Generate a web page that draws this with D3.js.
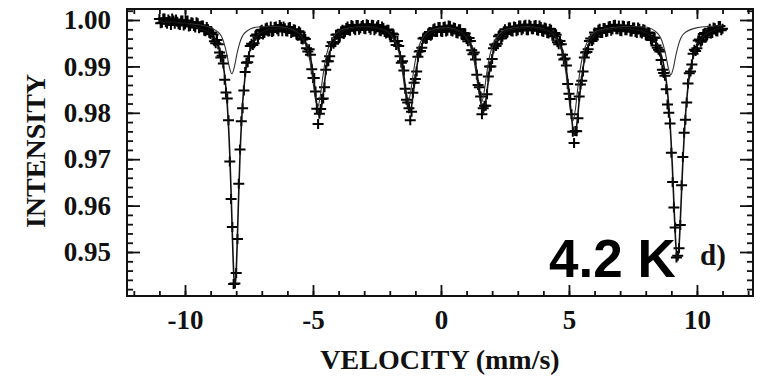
<!DOCTYPE html>
<html>
<head>
<meta charset="utf-8">
<script src="https://cdn.jsdelivr.net/npm/d3@7"></script>
<style>
  html, body { margin: 0; padding: 0; background: #fff; }
  svg { display: block; }
</style>
</head>
<body>
<div id="chart"></div>
<script>
const velocity = [
  -11, -10.9, -10.8, -10.7, -10.6, -10.5, -10.4, -10.3, -10.2, -10.1,
  -10, -9.9, -9.8, -9.7, -9.6, -9.5, -9.4, -9.3, -9.2, -9.1,
  -9, -8.9, -8.8, -8.7, -8.6, -8.5, -8.4, -8.3, -8.2, -8.1,
  -8, -7.9, -7.8, -7.7, -7.6, -7.5, -7.4, -7.3, -7.2, -7.1,
  -7, -6.9, -6.8, -6.7, -6.6, -6.5, -6.4, -6.3, -6.2, -6.1,
  -6, -5.9, -5.8, -5.7, -5.6, -5.5, -5.4, -5.3, -5.2, -5.1,
  -5, -4.9, -4.8, -4.7, -4.6, -4.5, -4.4, -4.3, -4.2, -4.1,
  -4, -3.9, -3.8, -3.7, -3.6, -3.5, -3.4, -3.3, -3.2, -3.1,
  -3, -2.9, -2.8, -2.7, -2.6, -2.5, -2.4, -2.3, -2.2, -2.1,
  -2, -1.9, -1.8, -1.7, -1.6, -1.5, -1.4, -1.3, -1.2, -1.1,
  -1, -0.9, -0.8, -0.7, -0.6, -0.5, -0.4, -0.3, -0.2, -0.1,
  0, 0.1, 0.2, 0.3, 0.4, 0.5, 0.6, 0.7, 0.8, 0.9,
  1, 1.1, 1.2, 1.3, 1.4, 1.5, 1.6, 1.7, 1.8, 1.9,
  2, 2.1, 2.2, 2.3, 2.4, 2.5, 2.6, 2.7, 2.8, 2.9,
  3, 3.1, 3.2, 3.3, 3.4, 3.5, 3.6, 3.7, 3.8, 3.9,
  4, 4.1, 4.2, 4.3, 4.4, 4.5, 4.6, 4.7, 4.8, 4.9,
  5, 5.1, 5.2, 5.3, 5.4, 5.5, 5.6, 5.7, 5.8, 5.9,
  6, 6.1, 6.2, 6.3, 6.4, 6.5, 6.6, 6.7, 6.8, 6.9,
  7, 7.1, 7.2, 7.3, 7.4, 7.5, 7.6, 7.7, 7.8, 7.9,
  8, 8.1, 8.2, 8.3, 8.4, 8.5, 8.6, 8.7, 8.8, 8.9,
  9, 9.1, 9.2, 9.3, 9.4, 9.5, 9.6, 9.7, 9.8, 9.9,
  10, 10.1, 10.2, 10.3, 10.4, 10.5, 10.6, 10.7, 10.8, 10.9,
  11
]
const intensity = [
  1.0002, 0.9994, 1.0003, 0.9992, 0.9998, 1.0003, 0.9992, 0.9996, 0.9989, 0.9999,
  0.9991, 0.9999, 0.9987, 0.9994, 0.9984, 0.9993, 0.9985, 0.9988, 0.9976, 0.9980,
  0.9970, 0.9969, 0.9950, 0.9948, 0.9919, 0.9906, 0.9844, 0.9784, 0.9614, 0.9431,
  0.9455, 0.9647, 0.9782, 0.9848, 0.9908, 0.9922, 0.9949, 0.9950, 0.9969, 0.9968,
  0.9979, 0.9972, 0.9984, 0.9976, 0.9974, 0.9985, 0.9980, 0.9989, 0.9976, 0.9982,
  0.9975, 0.9985, 0.9974, 0.9979, 0.9966, 0.9973, 0.9958, 0.9959, 0.9932, 0.9925,
  0.9875, 0.9846, 0.9776, 0.9808, 0.9831, 0.9893, 0.9911, 0.9944, 0.9949, 0.9968,
  0.9963, 0.9976, 0.9970, 0.9983, 0.9978, 0.9989, 0.9981, 0.9989, 0.9979, 0.9987,
  0.9981, 0.9991, 0.9983, 0.9990, 0.9978, 0.9986, 0.9977, 0.9986, 0.9974, 0.9979,
  0.9967, 0.9971, 0.9954, 0.9955, 0.9922, 0.9911, 0.9852, 0.9822, 0.9784, 0.9843,
  0.9873, 0.9921, 0.9933, 0.9960, 0.9959, 0.9971, 0.9966, 0.9980, 0.9974, 0.9985,
  0.9975, 0.9985, 0.9975, 0.9988, 0.9977, 0.9984, 0.9972, 0.9980, 0.9969, 0.9972,
  0.9959, 0.9961, 0.9935, 0.9930, 0.9882, 0.9855, 0.9797, 0.9815, 0.9840, 0.9900,
  0.9916, 0.9947, 0.9949, 0.9968, 0.9964, 0.9980, 0.9973, 0.9984, 0.9975, 0.9985,
  0.9978, 0.9988, 0.9981, 0.9990, 0.9978, 0.9987, 0.9980, 0.9989, 0.9977, 0.9985,
  0.9974, 0.9982, 0.9971, 0.9979, 0.9965, 0.9968, 0.9948, 0.9948, 0.9915, 0.9902,
  0.9841, 0.9797, 0.9735, 0.9760, 0.9835, 0.9869, 0.9919, 0.9931, 0.9955, 0.9955,
  0.9973, 0.9968, 0.9981, 0.9972, 0.9982, 0.9975, 0.9987, 0.9980, 0.9990, 0.9980,
  0.9977, 0.9988, 0.9978, 0.9986, 0.9975, 0.9984, 0.9974, 0.9984, 0.9973, 0.9980,
  0.9967, 0.9973, 0.9958, 0.9962, 0.9945, 0.9936, 0.9914, 0.9886, 0.9851, 0.9800,
  0.9714, 0.9596, 0.9488, 0.9508, 0.9644, 0.9757, 0.9822, 0.9885, 0.9904, 0.9936,
  0.9939, 0.9958, 0.9956, 0.9972, 0.9967, 0.9981, 0.9972, 0.9982, 0.9975, 0.9987,
  0.9981
]

// half channels in between
const velocityMid = [
  -10.95, -10.85, -10.75, -10.65, -10.55, -10.45, -10.35, -10.25, -10.15, -10.05,
  -9.95, -9.85, -9.75, -9.65, -9.55, -9.45, -9.35, -9.25, -9.15, -9.05,
  -8.95, -8.85, -8.75, -8.65, -8.55, -8.45, -8.35, -8.25, -8.15, -8.05,
  -7.95, -7.85, -7.75, -7.65, -7.55, -7.45, -7.35, -7.25, -7.15, -7.05,
  -6.95, -6.85, -6.75, -6.65, -6.55, -6.45, -6.35, -6.25, -6.15, -6.05,
  -5.95, -5.85, -5.75, -5.65, -5.55, -5.45, -5.35, -5.25, -5.15, -5.05,
  -4.95, -4.85, -4.75, -4.65, -4.55, -4.45, -4.35, -4.25, -4.15, -4.05,
  -3.95, -3.85, -3.75, -3.65, -3.55, -3.45, -3.35, -3.25, -3.15, -3.05,
  -2.95, -2.85, -2.75, -2.65, -2.55, -2.45, -2.35, -2.25, -2.15, -2.05,
  -1.95, -1.85, -1.75, -1.65, -1.55, -1.45, -1.35, -1.25, -1.15, -1.05,
  -0.95, -0.85, -0.75, -0.65, -0.55, -0.45, -0.35, -0.25, -0.15, -0.05,
  0.05, 0.15, 0.25, 0.35, 0.45, 0.55, 0.65, 0.75, 0.85, 0.95,
  1.05, 1.15, 1.25, 1.35, 1.45, 1.55, 1.65, 1.75, 1.85, 1.95,
  2.05, 2.15, 2.25, 2.35, 2.45, 2.55, 2.65, 2.75, 2.85, 2.95,
  3.05, 3.15, 3.25, 3.35, 3.45, 3.55, 3.65, 3.75, 3.85, 3.95,
  4.05, 4.15, 4.25, 4.35, 4.45, 4.55, 4.65, 4.75, 4.85, 4.95,
  5.05, 5.15, 5.25, 5.35, 5.45, 5.55, 5.65, 5.75, 5.85, 5.95,
  6.05, 6.15, 6.25, 6.35, 6.45, 6.55, 6.65, 6.75, 6.85, 6.95,
  7.05, 7.15, 7.25, 7.35, 7.45, 7.55, 7.65, 7.75, 7.85, 7.95,
  8.05, 8.15, 8.25, 8.35, 8.45, 8.55, 8.65, 8.75, 8.85, 8.95,
  9.05, 9.15, 9.25, 9.35, 9.45, 9.55, 9.65, 9.75, 9.85, 9.95,
  10.05, 10.15, 10.25, 10.35, 10.45, 10.55, 10.65, 10.75, 10.85, 10.95
]
const intensityMid = [
  0.9993, 1.0003, 0.9995, 1.0001, 0.9989, 0.9999, 1.0001, 0.9991, 0.9999, 0.9988,
  0.9998, 0.9986, 0.9995, 0.9987, 0.9995, 0.9982, 0.9988, 0.9977, 0.9985, 0.9972,
  0.9973, 0.9954, 0.9957, 0.9930, 0.9923, 0.9871, 0.9831, 0.9695, 0.9554, 0.9432,
  0.9528, 0.9721, 0.9810, 0.9888, 0.9909, 0.9944, 0.9946, 0.9966, 0.9962, 0.9977,
  0.9969, 0.9982, 0.9975, 0.9986, 0.9976, 0.9986, 0.9976, 0.9985, 0.9986, 0.9976,
  0.9984, 0.9972, 0.9980, 0.9969, 0.9976, 0.9959, 0.9962, 0.9939, 0.9937, 0.9894,
  0.9875, 0.9809, 0.9798, 0.9830, 0.9855, 0.9911, 0.9922, 0.9952, 0.9952, 0.9969,
  0.9964, 0.9979, 0.9974, 0.9986, 0.9977, 0.9987, 0.9978, 0.9989, 0.9982, 0.9989,
  0.9980, 0.9989, 0.9979, 0.9989, 0.9981, 0.9989, 0.9976, 0.9983, 0.9971, 0.9979,
  0.9964, 0.9969, 0.9946, 0.9944, 0.9908, 0.9891, 0.9828, 0.9810, 0.9802, 0.9865,
  0.9889, 0.9932, 0.9940, 0.9962, 0.9960, 0.9974, 0.9969, 0.9982, 0.9974, 0.9985,
  0.9974, 0.9986, 0.9977, 0.9987, 0.9975, 0.9983, 0.9971, 0.9980, 0.9967, 0.9971,
  0.9954, 0.9955, 0.9926, 0.9915, 0.9860, 0.9835, 0.9810, 0.9815, 0.9878, 0.9900,
  0.9939, 0.9944, 0.9965, 0.9960, 0.9975, 0.9970, 0.9984, 0.9976, 0.9986, 0.9976,
  0.9988, 0.9978, 0.9988, 0.9978, 0.9990, 0.9980, 0.9988, 0.9978, 0.9988, 0.9976,
  0.9984, 0.9972, 0.9981, 0.9966, 0.9972, 0.9952, 0.9955, 0.9925, 0.9917, 0.9862,
  0.9830, 0.9759, 0.9761, 0.9788, 0.9861, 0.9889, 0.9930, 0.9937, 0.9960, 0.9958,
  0.9964, 0.9979, 0.9972, 0.9983, 0.9974, 0.9986, 0.9977, 0.9989, 0.9980, 0.9988,
  0.9976, 0.9987, 0.9978, 0.9987, 0.9975, 0.9984, 0.9972, 0.9981, 0.9971, 0.9979,
  0.9966, 0.9972, 0.9957, 0.9962, 0.9940, 0.9932, 0.9893, 0.9880, 0.9818, 0.9777,
  0.9651, 0.9553, 0.9492, 0.9558, 0.9705, 0.9785, 0.9863, 0.9889, 0.9927, 0.9933,
  0.9956, 0.9953, 0.9970, 0.9963, 0.9977, 0.9971, 0.9984, 0.9976, 0.9987, 0.9978
]

// total fit (heavy line)
const fitVelocity = [
  -11, -10.5, -10, -9.55, -9.05, -8.65, -8.45, -8.35, -8.25, -8.2, -8.15, -8.1, -8.05,
  -8, -7.95, -7.9, -7.85, -7.75, -7.65, -7.45, -7.05, -6.55, -6.1,
  -5.75, -5.35, -5.15, -5.05, -4.95, -4.9, -4.85, -4.8, -4.75, -4.7, -4.65, -4.6, -4.55,
  -4.45, -4.35, -4.15, -3.75, -3,
  -2.22, -1.82, -1.62, -1.52, -1.42, -1.37, -1.32, -1.27, -1.22, -1.17, -1.12, -1.07, -1.02,
  -0.92, -0.82, -0.62, -0.22, 0.2,
  0.65, 1.05, 1.25, 1.35, 1.45, 1.5, 1.55, 1.6, 1.65, 1.7, 1.75, 1.8, 1.85,
  1.95, 2.05, 2.25, 2.65, 3.4,
  4.22, 4.62, 4.82, 4.92, 5.02, 5.07, 5.12, 5.17, 5.22, 5.27, 5.32, 5.37, 5.42,
  5.52, 5.62, 5.82, 6.22, 7,
  7.74, 8.24, 8.54, 8.74, 8.84, 8.94, 9.04, 9.12, 9.18, 9.24, 9.3, 9.36, 9.44,
  9.54, 9.64, 9.74, 9.94, 10.24, 10.74, 11
]
const fitIntensity = [
  0.9997, 0.9995, 0.9993, 0.9984, 0.9972, 0.9937, 0.9880, 0.9819, 0.9709, 0.9629, 0.9538, 0.9458, 0.9424,
  0.9458, 0.9538, 0.9629, 0.9709, 0.9819, 0.9880, 0.9937, 0.9972, 0.9981, 0.9981,
  0.9976, 0.9958, 0.9930, 0.9905, 0.9865, 0.9841, 0.9818, 0.9801, 0.9794, 0.9801, 0.9818, 0.9841, 0.9865,
  0.9905, 0.9930, 0.9958, 0.9978, 0.9985,
  0.9979, 0.9960, 0.9933, 0.9907, 0.9869, 0.9847, 0.9825, 0.9808, 0.9802, 0.9808, 0.9825, 0.9847, 0.9869,
  0.9907, 0.9933, 0.9960, 0.9977, 0.9981,
  0.9977, 0.9960, 0.9933, 0.9907, 0.9869, 0.9847, 0.9825, 0.9808, 0.9802, 0.9808, 0.9825, 0.9847, 0.9869,
  0.9907, 0.9933, 0.9960, 0.9978, 0.9984,
  0.9976, 0.9953, 0.9918, 0.9885, 0.9837, 0.9809, 0.9781, 0.9760, 0.9752, 0.9760, 0.9781, 0.9809, 0.9837,
  0.9885, 0.9918, 0.9953, 0.9976, 0.9982,
  0.9978, 0.9964, 0.9936, 0.9892, 0.9851, 0.9785, 0.9683, 0.9579, 0.9512, 0.9483, 0.9512, 0.9579, 0.9683,
  0.9785, 0.9851, 0.9892, 0.9936, 0.9964, 0.9980, 0.9984
]

// second sub-spectrum (light line)
const compVelocity = [
  -11, -10, -9.2, -8.67, -8.47, -8.37, -8.27, -8.17, -8.07, -7.97, -7.87, -7.67, -7.17,
  -6.4, -5.82, -5.42, -5.22, -5.12, -5.02, -4.92, -4.82, -4.72, -4.62, -4.52, -4.42, -4.22, -3.82,
  -3, -2.29, -1.89, -1.69, -1.59, -1.49, -1.39, -1.29, -1.19, -1.09, -0.99, -0.89, -0.69, -0.29,
  0.2, 0.58, 0.98, 1.18, 1.28, 1.38, 1.48, 1.58, 1.68, 1.78, 1.88, 1.98, 2.18, 2.58,
  3.4, 4.15, 4.55, 4.75, 4.85, 4.95, 5.05, 5.15, 5.25, 5.35, 5.45, 5.55, 5.75, 6.15,
  7.2, 7.98, 8.48, 8.68, 8.78, 8.88, 8.98, 9.08, 9.18, 9.28, 9.48, 9.98, 11
]
const compIntensity = [
  0.9997, 0.9993, 0.9987, 0.9972, 0.9949, 0.9927, 0.9899, 0.9884, 0.9899, 0.9927, 0.9949, 0.9972, 0.9985,
  0.9986, 0.9980, 0.9962, 0.9936, 0.9912, 0.9876, 0.9834, 0.9812, 0.9834, 0.9876, 0.9912, 0.9936, 0.9962, 0.9980,
  0.9986, 0.9980, 0.9963, 0.9939, 0.9916, 0.9882, 0.9843, 0.9822, 0.9843, 0.9882, 0.9916, 0.9939, 0.9963, 0.9980,
  0.9983, 0.9980, 0.9963, 0.9939, 0.9916, 0.9882, 0.9843, 0.9822, 0.9843, 0.9882, 0.9916, 0.9939, 0.9963, 0.9980,
  0.9986, 0.9978, 0.9957, 0.9926, 0.9898, 0.9856, 0.9807, 0.9782, 0.9807, 0.9856, 0.9898, 0.9926, 0.9957, 0.9978,
  0.9986, 0.9985, 0.9970, 0.9947, 0.9925, 0.9897, 0.9882, 0.9897, 0.9925, 0.9947, 0.9970, 0.9983, 0.9988
]

const xMajorTicks = [-10, -5, 0, 5, 10]
const xMinorTicks = [-12, -11, -10, -9, -8, -7, -6, -5, -4, -3, -2, -1, 0, 1, 2, 3, 4, 5, 6, 7, 8, 9, 10, 11, 12]
const yMajorTicks = [0.95, 0.96, 0.97, 0.98, 0.99, 1.00]
const yMinorTicks = [0.942, 0.944, 0.946, 0.948, 0.950, 0.952, 0.954, 0.956, 0.958, 0.960,
  0.962, 0.964, 0.966, 0.968, 0.970, 0.972, 0.974, 0.976, 0.978, 0.980,
  0.982, 0.984, 0.986, 0.988, 0.990, 0.992, 0.994, 0.996, 0.998, 1.000, 1.002]

const W = 760, H = 377
const frame = { left: 127, right: 753, top: 9, bottom: 296 }
const SERIF = "'Liberation Serif', 'Times New Roman', 'DejaVu Serif', serif"

const svg = d3.select('#chart')
  .append('svg')
  .attr('width', W)
  .attr('height', H)
  .style('background', '#fff')

const x = d3.scaleLinear().domain([-12.266, 12.19]).range([frame.left, frame.right])
const y = d3.scaleLinear().domain([0.94052, 1.00237]).range([frame.bottom, frame.top])

function styleAxis(g, withText) {
  g.select('.domain').remove()
  g.selectAll('line').attr('stroke', '#111').attr('stroke-width', 1.8)
  if (withText) {
    g.selectAll('text')
      .attr('fill', '#111')
      .attr('font-family', SERIF)
      .attr('font-weight', 'bold')
      .attr('font-size', '27px')
  } else {
    g.selectAll('text').remove()
  }
}

// plain hyphen for negatives, like the original
const fmtX = d => (d < 0 ? '-' + Math.abs(d) : String(d))

// bottom axis (ticks point inward)
const xb = svg.append('g').attr('transform', `translate(0,${frame.bottom})`)
xb.call(d3.axisBottom(x).tickValues(xMinorTicks).tickSize(-5).tickFormat(''))
styleAxis(xb, false)
const xbMaj = svg.append('g').attr('transform', `translate(0,${frame.bottom})`)
xbMaj.call(d3.axisBottom(x).tickValues(xMajorTicks).tickSize(-11).tickPadding(14).tickFormat(fmtX))
styleAxis(xbMaj, true)

// top axis
const xt = svg.append('g').attr('transform', `translate(0,${frame.top})`)
xt.call(d3.axisTop(x).tickValues(xMinorTicks).tickSize(-5).tickFormat(''))
styleAxis(xt, false)
const xtMaj = svg.append('g').attr('transform', `translate(0,${frame.top})`)
xtMaj.call(d3.axisTop(x).tickValues(xMajorTicks).tickSize(-10).tickFormat(''))
styleAxis(xtMaj, false)

// left axis
const yl = svg.append('g').attr('transform', `translate(${frame.left},0)`)
yl.call(d3.axisLeft(y).tickValues(yMinorTicks).tickSize(-6).tickFormat(''))
styleAxis(yl, false)
const ylMaj = svg.append('g').attr('transform', `translate(${frame.left},0)`)
ylMaj.call(d3.axisLeft(y).tickValues(yMajorTicks).tickSize(-13).tickPadding(16).tickFormat(d3.format('.2f')))
styleAxis(ylMaj, true)

// right axis
const yr = svg.append('g').attr('transform', `translate(${frame.right},0)`)
yr.call(d3.axisRight(y).tickValues(yMinorTicks).tickSize(-6).tickFormat(''))
styleAxis(yr, false)
const yrMaj = svg.append('g').attr('transform', `translate(${frame.right},0)`)
yrMaj.call(d3.axisRight(y).tickValues(yMajorTicks).tickSize(-13).tickFormat(''))
styleAxis(yrMaj, false)

// frame
svg.append('rect')
  .attr('x', frame.left).attr('y', frame.top)
  .attr('width', frame.right - frame.left)
  .attr('height', frame.bottom - frame.top)
  .attr('fill', 'none')
  .attr('stroke', '#111')
  .attr('stroke-width', 2)

const plot = svg.append('g')

// data crosses
const pts = velocity.map((v, i) => [v, intensity[i]])
  .concat(velocityMid.map((v, i) => [v, intensityMid[i]]))
plot.selectAll('path.pt')
  .data(pts)
  .join('path')
  .attr('class', 'pt')
  .attr('transform', d => `translate(${x(d[0])},${y(d[1])})`)
  .attr('d', 'M-5.5,0H5.5M0,-5V5')
  .attr('stroke', '#000')
  .attr('stroke-width', 2)
  .attr('fill', 'none')

const line = d3.line().x(d => x(d[0])).y(d => y(d[1])).curve(d3.curveMonotoneX)

plot.append('path')
  .datum(compVelocity.map((v, i) => [v, compIntensity[i]]))
  .attr('d', line)
  .attr('fill', 'none')
  .attr('stroke', '#333')
  .attr('stroke-width', 1.1)

plot.append('path')
  .datum(fitVelocity.map((v, i) => [v, fitIntensity[i]]))
  .attr('d', line)
  .attr('fill', 'none')
  .attr('stroke', '#111')
  .attr('stroke-width', 1.6)

// axis titles
svg.append('text')
  .attr('x', 440).attr('y', 369)
  .attr('text-anchor', 'middle')
  .attr('font-family', SERIF)
  .attr('font-weight', 'bold')
  .attr('font-size', '28px')
  .attr('fill', '#111')
  .text('VELOCITY (mm/s)')

svg.append('text')
  .attr('transform', 'translate(45,151) rotate(-90)')
  .attr('text-anchor', 'middle')
  .attr('font-family', SERIF)
  .attr('font-weight', 'bold')
  .attr('font-size', '28px')
  .attr('fill', '#111')
  .text('INTENSITY')

// annotations
svg.append('text')
  .attr('x', 700).attr('y', 265)
  .attr('font-family', SERIF)
  .attr('font-weight', 'bold')
  .attr('font-size', '29px')
  .attr('fill', '#111')
  .text('d)')

svg.append('text')
  .attr('x', 549).attr('y', 277)
  .attr('font-family', "'Liberation Sans', Arial, sans-serif")
  .attr('font-weight', 'bold')
  .attr('font-size', '53px')
  .attr('fill', '#000')
  .text('4.2 K')
</script>
</body>
</html>
